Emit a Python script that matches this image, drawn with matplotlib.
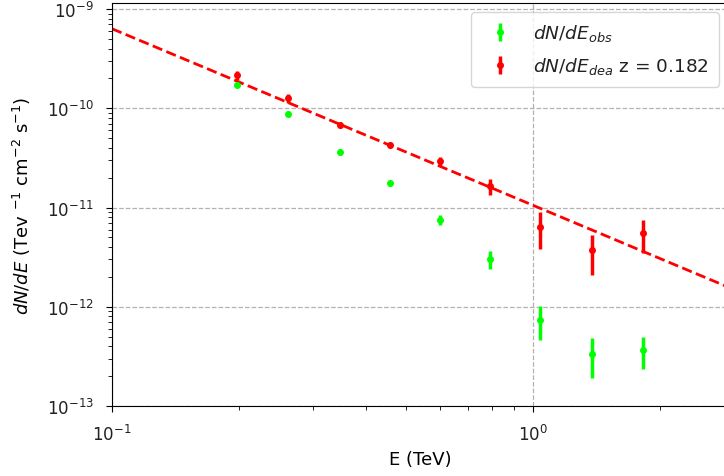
import numpy as np
import matplotlib
matplotlib.use("Agg")
import matplotlib.pyplot as plt
from matplotlib.ticker import NullFormatter

# Energy bins (TeV)
energy = [0.198, 0.262, 0.348, 0.457, 0.601, 0.791, 1.039, 1.380, 1.825]

# Observed differential flux and errors
flux_obs = [1.72e-10, 8.8e-11, 3.63e-11, 1.78e-11, 7.5e-12, 3.03e-12, 7.4e-13, 3.36e-13, 3.68e-13]
err_obs = [0.10e-10, 0.5e-11, 0.25e-11, 0.13e-11, 0.9e-12, 0.65e-12, 2.8e-13, 1.45e-13, 1.3e-13]

# Deabsorbed differential flux and errors
flux_dea = [2.16e-10, 1.26e-10, 6.8e-11, 4.27e-11, 2.95e-11, 1.65e-11, 6.4e-12, 3.7e-12, 5.5e-12]
err_dea = [0.23e-10, 0.12e-10, 0.5e-11, 0.3e-11, 0.3e-11, 0.3e-11, 2.6e-12, 1.6e-12, 2.0e-12]

# Power-law fit: N0 * E^-gamma
norm = 1.05e-11
gamma = 1.78
redshift = 0.182

plt.rcParams["font.size"] = 12
plt.rcParams["text.color"] = "#222222"
plt.rcParams["xtick.labelcolor"] = "#222222"
plt.rcParams["ytick.labelcolor"] = "#222222"

fig = plt.figure(figsize=(7.24, 4.77), dpi=100)
ax = fig.add_axes([0.1547, 0.1468, 0.851, 0.8448])

e_fit = np.logspace(-1, np.log10(3.0), 200)
ax.plot(e_fit, norm * e_fit ** (-gamma), "--", color="red", linewidth=2)

ax.errorbar(energy, flux_obs, yerr=err_obs, fmt="o", color="lime",
            markersize=4, elinewidth=2.5, capsize=0, label=r"$dN/dE_{obs}$")
ax.errorbar(energy, flux_dea, yerr=err_dea, fmt="o", color="red",
            markersize=4, elinewidth=2.5, capsize=0,
            label=r"$dN/dE_{dea}$ z = " + f"{redshift}")

ax.set_xscale("log")
ax.set_yscale("log")
ax.set_xlim(0.1, 2.9)
ax.set_ylim(1e-13, 1.15e-9)
ax.xaxis.set_minor_formatter(NullFormatter())
ax.yaxis.set_minor_formatter(NullFormatter())

ax.tick_params(which="major", length=4.2, pad=9)
ax.tick_params(which="minor", length=2.6)

ax.grid(True, which="major", linestyle="--", color="gray", alpha=0.6, linewidth=0.9)

ax.set_xlabel("E (TeV)", fontsize=13, labelpad=4)
ax.set_ylabel(r"$dN/dE$ (Tev $^{-1}$ cm$^{-2}$ s$^{-1}$)", fontsize=13, labelpad=10)

ax.legend(loc="upper right", fontsize=13.3, labelspacing=0.65, borderpad=0.55)

fig.savefig("out.png", dpi=100)
